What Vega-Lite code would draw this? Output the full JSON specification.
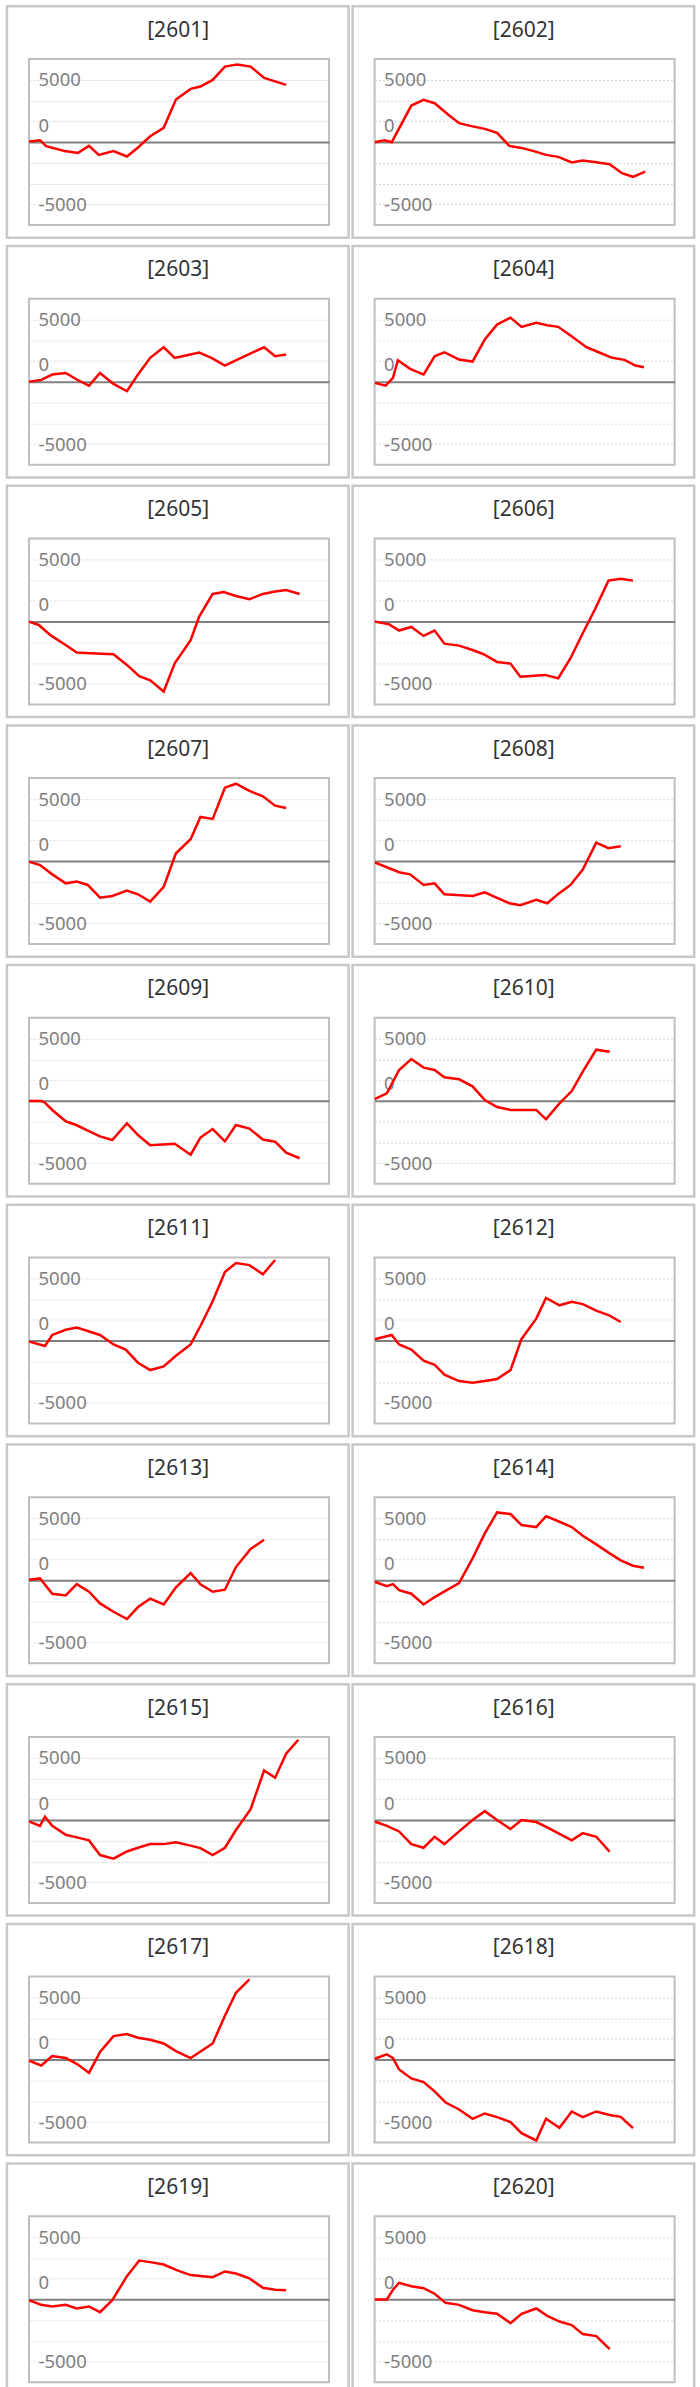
{
  "$schema": "https://vega.github.io/schema/vega-lite/v6.json",
  "background": "white",
  "padding": {"left": 4, "top": 3, "right": 0, "bottom": 0},
  "bounds": "flush",
  "data": {
    "values": [
      {"code": "[2601]", "t": 0, "value": 50}, {"code": "[2601]", "t": 0.9, "value": 160}, {"code": "[2601]", "t": 1.4, "value": -320}, {"code": "[2601]", "t": 2.9, "value": -700}, {"code": "[2601]", "t": 4, "value": -860}, {"code": "[2601]", "t": 4.9, "value": -300}, {"code": "[2601]", "t": 5.7, "value": -1020}, {"code": "[2601]", "t": 6.9, "value": -720}, {"code": "[2601]", "t": 8, "value": -1150}, {"code": "[2601]", "t": 8.9, "value": -430}, {"code": "[2601]", "t": 9.9, "value": 480}, {"code": "[2601]", "t": 11, "value": 1150}, {"code": "[2601]", "t": 12, "value": 3430}, {"code": "[2601]", "t": 13.2, "value": 4280}, {"code": "[2601]", "t": 14, "value": 4470}, {"code": "[2601]", "t": 15, "value": 5000}, {"code": "[2601]", "t": 16, "value": 6070}, {"code": "[2601]", "t": 17, "value": 6230}, {"code": "[2601]", "t": 18.1, "value": 6070}, {"code": "[2601]", "t": 19.2, "value": 5160}, {"code": "[2601]", "t": 21, "value": 4600},

      {"code": "[2602]", "t": 0, "value": 0}, {"code": "[2602]", "t": 0.8, "value": 160}, {"code": "[2602]", "t": 1.4, "value": 0}, {"code": "[2602]", "t": 3, "value": 2940}, {"code": "[2602]", "t": 4, "value": 3400}, {"code": "[2602]", "t": 4.9, "value": 3130}, {"code": "[2602]", "t": 6, "value": 2220}, {"code": "[2602]", "t": 6.9, "value": 1530}, {"code": "[2602]", "t": 7.9, "value": 1290}, {"code": "[2602]", "t": 9, "value": 1070}, {"code": "[2602]", "t": 10, "value": 750}, {"code": "[2602]", "t": 11, "value": -300}, {"code": "[2602]", "t": 12, "value": -460}, {"code": "[2602]", "t": 13, "value": -720}, {"code": "[2602]", "t": 14, "value": -1020}, {"code": "[2602]", "t": 15, "value": -1180}, {"code": "[2602]", "t": 16.1, "value": -1630}, {"code": "[2602]", "t": 17, "value": -1470}, {"code": "[2602]", "t": 18.1, "value": -1610}, {"code": "[2602]", "t": 19.2, "value": -1770}, {"code": "[2602]", "t": 20.2, "value": -2490}, {"code": "[2602]", "t": 21.1, "value": -2780}, {"code": "[2602]", "t": 22.1, "value": -2360},

      {"code": "[2603]", "t": 0, "value": 0}, {"code": "[2603]", "t": 1, "value": 160}, {"code": "[2603]", "t": 1.9, "value": 590}, {"code": "[2603]", "t": 3, "value": 720}, {"code": "[2603]", "t": 3.9, "value": 190}, {"code": "[2603]", "t": 4.9, "value": -300}, {"code": "[2603]", "t": 5.8, "value": 720}, {"code": "[2603]", "t": 6.9, "value": -160}, {"code": "[2603]", "t": 8, "value": -750}, {"code": "[2603]", "t": 8.9, "value": 590}, {"code": "[2603]", "t": 9.9, "value": 1930}, {"code": "[2603]", "t": 11, "value": 2780}, {"code": "[2603]", "t": 11.9, "value": 1930}, {"code": "[2603]", "t": 12.9, "value": 2140}, {"code": "[2603]", "t": 13.9, "value": 2360}, {"code": "[2603]", "t": 14.9, "value": 1930}, {"code": "[2603]", "t": 16, "value": 1310}, {"code": "[2603]", "t": 17.1, "value": 1820}, {"code": "[2603]", "t": 18.2, "value": 2330}, {"code": "[2603]", "t": 19.2, "value": 2780}, {"code": "[2603]", "t": 20.1, "value": 2060}, {"code": "[2603]", "t": 21, "value": 2200},

      {"code": "[2604]", "t": 0, "value": -80}, {"code": "[2604]", "t": 0.9, "value": -300}, {"code": "[2604]", "t": 1.5, "value": 320}, {"code": "[2604]", "t": 1.9, "value": 1740}, {"code": "[2604]", "t": 2.9, "value": 1050}, {"code": "[2604]", "t": 4, "value": 590}, {"code": "[2604]", "t": 4.9, "value": 2060}, {"code": "[2604]", "t": 5.7, "value": 2380}, {"code": "[2604]", "t": 6.9, "value": 1790}, {"code": "[2604]", "t": 8, "value": 1630}, {"code": "[2604]", "t": 9, "value": 3400}, {"code": "[2604]", "t": 10, "value": 4600}, {"code": "[2604]", "t": 11.1, "value": 5160}, {"code": "[2604]", "t": 12, "value": 4420}, {"code": "[2604]", "t": 13.2, "value": 4740}, {"code": "[2604]", "t": 14.1, "value": 4550}, {"code": "[2604]", "t": 15, "value": 4420}, {"code": "[2604]", "t": 16, "value": 3720}, {"code": "[2604]", "t": 17.3, "value": 2780}, {"code": "[2604]", "t": 18.3, "value": 2380}, {"code": "[2604]", "t": 19.4, "value": 1930}, {"code": "[2604]", "t": 20.4, "value": 1770}, {"code": "[2604]", "t": 21.3, "value": 1310}, {"code": "[2604]", "t": 22, "value": 1180},

      {"code": "[2605]", "t": 0, "value": 0}, {"code": "[2605]", "t": 0.8, "value": -270}, {"code": "[2605]", "t": 1.8, "value": -1130}, {"code": "[2605]", "t": 2.9, "value": -1820}, {"code": "[2605]", "t": 3.9, "value": -2490}, {"code": "[2605]", "t": 5, "value": -2540}, {"code": "[2605]", "t": 6.9, "value": -2620}, {"code": "[2605]", "t": 8, "value": -3480}, {"code": "[2605]", "t": 9, "value": -4390}, {"code": "[2605]", "t": 9.9, "value": -4710}, {"code": "[2605]", "t": 11, "value": -5620}, {"code": "[2605]", "t": 11.9, "value": -3350}, {"code": "[2605]", "t": 13.2, "value": -1500}, {"code": "[2605]", "t": 13.9, "value": 400}, {"code": "[2605]", "t": 15, "value": 2220}, {"code": "[2605]", "t": 15.9, "value": 2380}, {"code": "[2605]", "t": 16.9, "value": 2060}, {"code": "[2605]", "t": 18, "value": 1790}, {"code": "[2605]", "t": 19.1, "value": 2220}, {"code": "[2605]", "t": 20.1, "value": 2410}, {"code": "[2605]", "t": 21, "value": 2540}, {"code": "[2605]", "t": 22.1, "value": 2220},

      {"code": "[2606]", "t": 0, "value": 0}, {"code": "[2606]", "t": 1.2, "value": -220}, {"code": "[2606]", "t": 2, "value": -720}, {"code": "[2606]", "t": 3, "value": -430}, {"code": "[2606]", "t": 4, "value": -1150}, {"code": "[2606]", "t": 4.9, "value": -720}, {"code": "[2606]", "t": 5.7, "value": -1770}, {"code": "[2606]", "t": 6.9, "value": -1930}, {"code": "[2606]", "t": 8, "value": -2280}, {"code": "[2606]", "t": 8.9, "value": -2620}, {"code": "[2606]", "t": 10, "value": -3240}, {"code": "[2606]", "t": 11.1, "value": -3370}, {"code": "[2606]", "t": 11.9, "value": -4420}, {"code": "[2606]", "t": 13.9, "value": -4280}, {"code": "[2606]", "t": 15, "value": -4550}, {"code": "[2606]", "t": 16, "value": -2940}, {"code": "[2606]", "t": 17, "value": -940}, {"code": "[2606]", "t": 18, "value": 990}, {"code": "[2606]", "t": 19.1, "value": 3290}, {"code": "[2606]", "t": 20.1, "value": 3430}, {"code": "[2606]", "t": 21.1, "value": 3290},

      {"code": "[2607]", "t": 0, "value": -30}, {"code": "[2607]", "t": 0.9, "value": -300}, {"code": "[2607]", "t": 1.9, "value": -1050}, {"code": "[2607]", "t": 3, "value": -1770}, {"code": "[2607]", "t": 3.9, "value": -1630}, {"code": "[2607]", "t": 4.8, "value": -1900}, {"code": "[2607]", "t": 5.8, "value": -2920}, {"code": "[2607]", "t": 6.8, "value": -2780}, {"code": "[2607]", "t": 8, "value": -2360}, {"code": "[2607]", "t": 8.9, "value": -2650}, {"code": "[2607]", "t": 9.9, "value": -3240}, {"code": "[2607]", "t": 11, "value": -2060}, {"code": "[2607]", "t": 12, "value": 640}, {"code": "[2607]", "t": 13.2, "value": 1770}, {"code": "[2607]", "t": 14, "value": 3560}, {"code": "[2607]", "t": 15, "value": 3400}, {"code": "[2607]", "t": 16, "value": 5910}, {"code": "[2607]", "t": 16.9, "value": 6230}, {"code": "[2607]", "t": 18, "value": 5650}, {"code": "[2607]", "t": 19.1, "value": 5220}, {"code": "[2607]", "t": 20.1, "value": 4470}, {"code": "[2607]", "t": 21, "value": 4280},

      {"code": "[2608]", "t": 0, "value": -80}, {"code": "[2608]", "t": 1, "value": -480}, {"code": "[2608]", "t": 2, "value": -880}, {"code": "[2608]", "t": 2.9, "value": -1050}, {"code": "[2608]", "t": 4, "value": -1900}, {"code": "[2608]", "t": 4.9, "value": -1770}, {"code": "[2608]", "t": 5.7, "value": -2650}, {"code": "[2608]", "t": 8, "value": -2780}, {"code": "[2608]", "t": 9, "value": -2490}, {"code": "[2608]", "t": 10, "value": -2940}, {"code": "[2608]", "t": 11, "value": -3370}, {"code": "[2608]", "t": 11.9, "value": -3530}, {"code": "[2608]", "t": 13.2, "value": -3100}, {"code": "[2608]", "t": 14.1, "value": -3370}, {"code": "[2608]", "t": 15, "value": -2620}, {"code": "[2608]", "t": 16, "value": -1900}, {"code": "[2608]", "t": 17, "value": -670}, {"code": "[2608]", "t": 18.1, "value": 1500}, {"code": "[2608]", "t": 19.1, "value": 1050}, {"code": "[2608]", "t": 20.1, "value": 1200},

      {"code": "[2609]", "t": 0, "value": 0}, {"code": "[2609]", "t": 1, "value": 0}, {"code": "[2609]", "t": 1.3, "value": -140}, {"code": "[2609]", "t": 1.9, "value": -720}, {"code": "[2609]", "t": 3, "value": -1630}, {"code": "[2609]", "t": 3.9, "value": -1950}, {"code": "[2609]", "t": 4.8, "value": -2380}, {"code": "[2609]", "t": 5.8, "value": -2840}, {"code": "[2609]", "t": 6.8, "value": -3130}, {"code": "[2609]", "t": 8, "value": -1790}, {"code": "[2609]", "t": 8.9, "value": -2730}, {"code": "[2609]", "t": 9.9, "value": -3560}, {"code": "[2609]", "t": 11.9, "value": -3430}, {"code": "[2609]", "t": 13.2, "value": -4310}, {"code": "[2609]", "t": 14, "value": -2940}, {"code": "[2609]", "t": 15, "value": -2250}, {"code": "[2609]", "t": 16, "value": -3240}, {"code": "[2609]", "t": 16.9, "value": -1930}, {"code": "[2609]", "t": 18, "value": -2220}, {"code": "[2609]", "t": 19.1, "value": -3100}, {"code": "[2609]", "t": 20.1, "value": -3270}, {"code": "[2609]", "t": 21, "value": -4150}, {"code": "[2609]", "t": 22.1, "value": -4600},

      {"code": "[2610]", "t": 0, "value": 140}, {"code": "[2610]", "t": 1, "value": 620}, {"code": "[2610]", "t": 2, "value": 2490}, {"code": "[2610]", "t": 3, "value": 3370}, {"code": "[2610]", "t": 4, "value": 2680}, {"code": "[2610]", "t": 4.9, "value": 2490}, {"code": "[2610]", "t": 5.7, "value": 1900}, {"code": "[2610]", "t": 6.9, "value": 1740}, {"code": "[2610]", "t": 8, "value": 1180}, {"code": "[2610]", "t": 9, "value": 80}, {"code": "[2610]", "t": 10, "value": -480}, {"code": "[2610]", "t": 11.1, "value": -720}, {"code": "[2610]", "t": 13.2, "value": -720}, {"code": "[2610]", "t": 14, "value": -1470}, {"code": "[2610]", "t": 15.1, "value": -190}, {"code": "[2610]", "t": 16.1, "value": 800}, {"code": "[2610]", "t": 17, "value": 2360}, {"code": "[2610]", "t": 18.1, "value": 4120}, {"code": "[2610]", "t": 19.2, "value": 3960},

      {"code": "[2611]", "t": 0, "value": -60}, {"code": "[2611]", "t": 1.3, "value": -430}, {"code": "[2611]", "t": 1.9, "value": 460}, {"code": "[2611]", "t": 3, "value": 880}, {"code": "[2611]", "t": 3.9, "value": 1050}, {"code": "[2611]", "t": 4.8, "value": 780}, {"code": "[2611]", "t": 5.8, "value": 460}, {"code": "[2611]", "t": 6.9, "value": -300}, {"code": "[2611]", "t": 7.9, "value": -720}, {"code": "[2611]", "t": 8.9, "value": -1770}, {"code": "[2611]", "t": 9.9, "value": -2360}, {"code": "[2611]", "t": 11, "value": -2060}, {"code": "[2611]", "t": 12, "value": -1210}, {"code": "[2611]", "t": 13.2, "value": -300}, {"code": "[2611]", "t": 14, "value": 1180}, {"code": "[2611]", "t": 15, "value": 3160}, {"code": "[2611]", "t": 16, "value": 5510}, {"code": "[2611]", "t": 16.9, "value": 6230}, {"code": "[2611]", "t": 18, "value": 6070}, {"code": "[2611]", "t": 19.1, "value": 5330}, {"code": "[2611]", "t": 20.1, "value": 6480},

      {"code": "[2612]", "t": 0, "value": 110}, {"code": "[2612]", "t": 1.4, "value": 460}, {"code": "[2612]", "t": 2, "value": -300}, {"code": "[2612]", "t": 3, "value": -720}, {"code": "[2612]", "t": 4, "value": -1610}, {"code": "[2612]", "t": 4.9, "value": -1930}, {"code": "[2612]", "t": 5.7, "value": -2730}, {"code": "[2612]", "t": 6.9, "value": -3240}, {"code": "[2612]", "t": 8, "value": -3370}, {"code": "[2612]", "t": 9, "value": -3240}, {"code": "[2612]", "t": 10, "value": -3080}, {"code": "[2612]", "t": 11.1, "value": -2360}, {"code": "[2612]", "t": 12, "value": 140}, {"code": "[2612]", "t": 13.2, "value": 1770}, {"code": "[2612]", "t": 14, "value": 3430}, {"code": "[2612]", "t": 15.1, "value": 2840}, {"code": "[2612]", "t": 16.1, "value": 3130}, {"code": "[2612]", "t": 17, "value": 2940}, {"code": "[2612]", "t": 18.1, "value": 2410}, {"code": "[2612]", "t": 19.2, "value": 2010}, {"code": "[2612]", "t": 20.1, "value": 1500},

      {"code": "[2613]", "t": 0, "value": 60}, {"code": "[2613]", "t": 0.9, "value": 160}, {"code": "[2613]", "t": 1.9, "value": -1070}, {"code": "[2613]", "t": 3, "value": -1210}, {"code": "[2613]", "t": 3.9, "value": -300}, {"code": "[2613]", "t": 4.9, "value": -910}, {"code": "[2613]", "t": 5.8, "value": -1850}, {"code": "[2613]", "t": 6.9, "value": -2520}, {"code": "[2613]", "t": 8, "value": -3100}, {"code": "[2613]", "t": 8.9, "value": -2140}, {"code": "[2613]", "t": 9.9, "value": -1470}, {"code": "[2613]", "t": 11, "value": -1930}, {"code": "[2613]", "t": 12, "value": -560}, {"code": "[2613]", "t": 13.2, "value": 590}, {"code": "[2613]", "t": 14, "value": -320}, {"code": "[2613]", "t": 15, "value": -910}, {"code": "[2613]", "t": 16, "value": -750}, {"code": "[2613]", "t": 16.9, "value": 1070}, {"code": "[2613]", "t": 18.1, "value": 2520}, {"code": "[2613]", "t": 19.2, "value": 3270},

      {"code": "[2614]", "t": 0, "value": -110}, {"code": "[2614]", "t": 1, "value": -460}, {"code": "[2614]", "t": 1.5, "value": -300}, {"code": "[2614]", "t": 2, "value": -780}, {"code": "[2614]", "t": 3, "value": -1070}, {"code": "[2614]", "t": 4, "value": -1930}, {"code": "[2614]", "t": 4.9, "value": -1340}, {"code": "[2614]", "t": 6, "value": -720}, {"code": "[2614]", "t": 6.9, "value": -220}, {"code": "[2614]", "t": 8, "value": 1770}, {"code": "[2614]", "t": 9, "value": 3770}, {"code": "[2614]", "t": 10, "value": 5460}, {"code": "[2614]", "t": 11.1, "value": 5330}, {"code": "[2614]", "t": 12, "value": 4440}, {"code": "[2614]", "t": 13.2, "value": 4280}, {"code": "[2614]", "t": 14, "value": 5160}, {"code": "[2614]", "t": 15.1, "value": 4710}, {"code": "[2614]", "t": 16.1, "value": 4280}, {"code": "[2614]", "t": 17, "value": 3590}, {"code": "[2614]", "t": 18.1, "value": 2890}, {"code": "[2614]", "t": 19.2, "value": 2170}, {"code": "[2614]", "t": 20.1, "value": 1610}, {"code": "[2614]", "t": 21.1, "value": 1180}, {"code": "[2614]", "t": 22, "value": 1020},

      {"code": "[2615]", "t": 0, "value": -110}, {"code": "[2615]", "t": 0.9, "value": -460}, {"code": "[2615]", "t": 1.3, "value": 270}, {"code": "[2615]", "t": 1.9, "value": -460}, {"code": "[2615]", "t": 3, "value": -1180}, {"code": "[2615]", "t": 3.9, "value": -1390}, {"code": "[2615]", "t": 4.9, "value": -1630}, {"code": "[2615]", "t": 5.8, "value": -2810}, {"code": "[2615]", "t": 6.9, "value": -3100}, {"code": "[2615]", "t": 8, "value": -2520}, {"code": "[2615]", "t": 8.9, "value": -2220}, {"code": "[2615]", "t": 9.9, "value": -1930}, {"code": "[2615]", "t": 11, "value": -1930}, {"code": "[2615]", "t": 12, "value": -1790}, {"code": "[2615]", "t": 13.1, "value": -2030}, {"code": "[2615]", "t": 14, "value": -2250}, {"code": "[2615]", "t": 15, "value": -2810}, {"code": "[2615]", "t": 16, "value": -2220}, {"code": "[2615]", "t": 16.9, "value": -800}, {"code": "[2615]", "t": 18.1, "value": 880}, {"code": "[2615]", "t": 19.2, "value": 3990}, {"code": "[2615]", "t": 20.1, "value": 3400}, {"code": "[2615]", "t": 21, "value": 5330}, {"code": "[2615]", "t": 22, "value": 6450},

      {"code": "[2616]", "t": 0, "value": -110}, {"code": "[2616]", "t": 1, "value": -460}, {"code": "[2616]", "t": 2, "value": -910}, {"code": "[2616]", "t": 3, "value": -1930}, {"code": "[2616]", "t": 4, "value": -2220}, {"code": "[2616]", "t": 4.9, "value": -1340}, {"code": "[2616]", "t": 5.7, "value": -1930}, {"code": "[2616]", "t": 6.9, "value": -910}, {"code": "[2616]", "t": 8, "value": 0}, {"code": "[2616]", "t": 9, "value": 720}, {"code": "[2616]", "t": 10, "value": 0}, {"code": "[2616]", "t": 11.1, "value": -720}, {"code": "[2616]", "t": 12, "value": 0}, {"code": "[2616]", "t": 13.2, "value": -160}, {"code": "[2616]", "t": 14.1, "value": -590}, {"code": "[2616]", "t": 15.1, "value": -1100}, {"code": "[2616]", "t": 16.1, "value": -1630}, {"code": "[2616]", "t": 17, "value": -1050}, {"code": "[2616]", "t": 18.1, "value": -1340}, {"code": "[2616]", "t": 19.2, "value": -2540},

      {"code": "[2617]", "t": 0, "value": -60}, {"code": "[2617]", "t": 1, "value": -460}, {"code": "[2617]", "t": 1.9, "value": 300}, {"code": "[2617]", "t": 3, "value": 140}, {"code": "[2617]", "t": 3.9, "value": -320}, {"code": "[2617]", "t": 4.9, "value": -1050}, {"code": "[2617]", "t": 5.8, "value": 620}, {"code": "[2617]", "t": 6.9, "value": 1900}, {"code": "[2617]", "t": 8, "value": 2060}, {"code": "[2617]", "t": 8.9, "value": 1770}, {"code": "[2617]", "t": 9.9, "value": 1610}, {"code": "[2617]", "t": 11, "value": 1310}, {"code": "[2617]", "t": 12, "value": 700}, {"code": "[2617]", "t": 13.2, "value": 140}, {"code": "[2617]", "t": 15, "value": 1310}, {"code": "[2617]", "t": 16, "value": 3530}, {"code": "[2617]", "t": 16.9, "value": 5380}, {"code": "[2617]", "t": 18, "value": 6450},

      {"code": "[2618]", "t": 0, "value": 80}, {"code": "[2618]", "t": 1, "value": 430}, {"code": "[2618]", "t": 1.5, "value": 140}, {"code": "[2618]", "t": 2, "value": -780}, {"code": "[2618]", "t": 3, "value": -1500}, {"code": "[2618]", "t": 4, "value": -1790}, {"code": "[2618]", "t": 4.9, "value": -2540}, {"code": "[2618]", "t": 5.8, "value": -3430}, {"code": "[2618]", "t": 6.9, "value": -3990}, {"code": "[2618]", "t": 8, "value": -4740}, {"code": "[2618]", "t": 9, "value": -4310}, {"code": "[2618]", "t": 10, "value": -4600}, {"code": "[2618]", "t": 11.1, "value": -5000}, {"code": "[2618]", "t": 12, "value": -5890}, {"code": "[2618]", "t": 13.2, "value": -6480}, {"code": "[2618]", "t": 14, "value": -4740}, {"code": "[2618]", "t": 15.1, "value": -5460}, {"code": "[2618]", "t": 16.1, "value": -4150}, {"code": "[2618]", "t": 17, "value": -4600}, {"code": "[2618]", "t": 18.1, "value": -4150}, {"code": "[2618]", "t": 19.2, "value": -4440}, {"code": "[2618]", "t": 20.1, "value": -4580}, {"code": "[2618]", "t": 21.1, "value": -5490},

      {"code": "[2619]", "t": 0, "value": -60}, {"code": "[2619]", "t": 1, "value": -430}, {"code": "[2619]", "t": 1.9, "value": -560}, {"code": "[2619]", "t": 3, "value": -430}, {"code": "[2619]", "t": 3.9, "value": -720}, {"code": "[2619]", "t": 4.9, "value": -560}, {"code": "[2619]", "t": 5.8, "value": -1020}, {"code": "[2619]", "t": 6.8, "value": -60}, {"code": "[2619]", "t": 8, "value": 1870}, {"code": "[2619]", "t": 9, "value": 3130}, {"code": "[2619]", "t": 9.9, "value": 3000}, {"code": "[2619]", "t": 11, "value": 2810}, {"code": "[2619]", "t": 12, "value": 2380}, {"code": "[2619]", "t": 13.2, "value": 1960}, {"code": "[2619]", "t": 15, "value": 1790}, {"code": "[2619]", "t": 16, "value": 2250}, {"code": "[2619]", "t": 16.9, "value": 2090}, {"code": "[2619]", "t": 18, "value": 1690}, {"code": "[2619]", "t": 19.1, "value": 940}, {"code": "[2619]", "t": 20.1, "value": 780}, {"code": "[2619]", "t": 21, "value": 750},

      {"code": "[2620]", "t": 0, "value": 0}, {"code": "[2620]", "t": 1, "value": 0}, {"code": "[2620]", "t": 1.5, "value": 780}, {"code": "[2620]", "t": 2, "value": 1340}, {"code": "[2620]", "t": 3, "value": 1070}, {"code": "[2620]", "t": 4, "value": 910}, {"code": "[2620]", "t": 4.9, "value": 460}, {"code": "[2620]", "t": 5.8, "value": -270}, {"code": "[2620]", "t": 6.9, "value": -430}, {"code": "[2620]", "t": 8, "value": -860}, {"code": "[2620]", "t": 9, "value": -1020}, {"code": "[2620]", "t": 10, "value": -1150}, {"code": "[2620]", "t": 11.1, "value": -1900}, {"code": "[2620]", "t": 12, "value": -1150}, {"code": "[2620]", "t": 13.2, "value": -720}, {"code": "[2620]", "t": 14.1, "value": -1310}, {"code": "[2620]", "t": 15.1, "value": -1770}, {"code": "[2620]", "t": 16.1, "value": -2060}, {"code": "[2620]", "t": 17, "value": -2780}, {"code": "[2620]", "t": 18.1, "value": -2940}, {"code": "[2620]", "t": 19.2, "value": -3990}
    ]
  },
  "columns": 2,
  "spacing": {"row": 73.7, "column": 45.6},
  "facet": {
    "field": "code",
    "type": "nominal",
    "header": {"title": null, "labelExpr": "''", "labelFontSize": 1, "labelPadding": 0}
  },
  "resolve": {"axis": {"y": "independent"}},
  "spec": {
    "width": 300,
    "height": 166,
    "encoding": {
      "x": {
        "field": "t",
        "type": "quantitative",
        "scale": {"domain": [0, 24.5], "nice": false, "zero": false},
        "axis": null
      },
      "y": {
        "field": "value",
        "type": "quantitative",
        "scale": {"domain": [-6650, 6680], "nice": false, "zero": false},
        "axis": {
          "title": null,
          "values": [-5000, -3333.333, -1666.667, 0, 1666.667, 3333.333, 5000],
          "labelExpr": "datum.value == 5000 ? '5000' : datum.value == 0 ? '0' : datum.value == -5000 ? '-5000' : ''",
          "domain": false,
          "ticks": false,
          "tickSize": 0,
          "offset": -9,
          "labelAlign": "left",
          "labelPadding": 0,
          "labelFont": "Noto Sans",
          "labelFontSize": 18.5,
          "labelColor": "#7f7f7f",
          "labelOffset": {"condition": {"test": "datum.value == 0", "value": -17}, "value": 0},
          "labelOverlap": false,
          "labelBound": false,
          "labelFlush": false,
          "grid": true,
          "gridColor": {"condition": {"test": "datum.value == 0", "value": "#808080"}, "value": "#d9d9d9"},
          "gridWidth": {"condition": {"test": "datum.value == 0", "value": 2}, "value": 1},
          "gridDash": {"condition": {"test": "datum.value == 0", "value": []}, "value": [2, 2]}
        }
      }
    },
    "layer": [
      {
        "mark": {"type": "line", "color": "#ff0000", "strokeWidth": 2.5, "clip": true}
      },
      {
        "transform": [{"filter": "datum.t == 0"}],
        "mark": {"type": "rect", "filled": false, "stroke": "#c8c8c8", "strokeWidth": 2.5},
        "encoding": {
          "x": {"datum": -1.8},
          "x2": {"datum": 26.1},
          "y": {"datum": 10910},
          "y2": {"datum": -7670}
        }
      },
      {
        "transform": [{"filter": "datum.t == 0"}],
        "mark": {"type": "text", "font": "Noto Sans", "fontSize": 21, "color": "#333333", "align": "center", "baseline": "middle"},
        "encoding": {
          "x": {"datum": 12.18},
          "y": {"datum": 8960},
          "text": {"field": "code"}
        }
      }
    ]
  },
  "config": {
    "view": {"stroke": "#bfbfbf", "strokeWidth": 2}
  }
}
